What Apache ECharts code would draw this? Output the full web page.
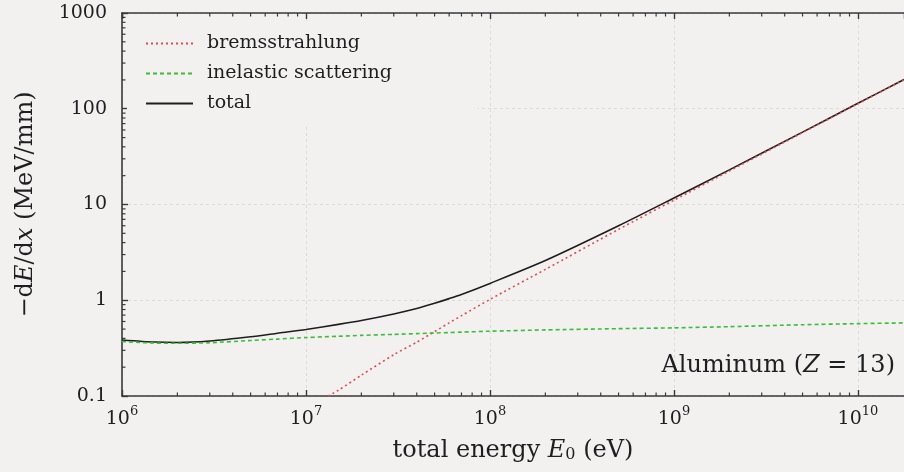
<!DOCTYPE html>
<html><head><meta charset="utf-8">
<script src="https://cdn.jsdelivr.net/npm/echarts@6/dist/echarts.min.js"></script>
<style>html,body{margin:0;padding:0;background:#f3f0f0;}#c{width:904px;height:472px;}</style>
</head><body><div id="c"></div>
<script>
// Data (energy in eV, stopping power in MeV/mm)
const energy = [1e6, 1.5e6, 2e6, 3e6, 5e6, 7e6, 1e7, 1.5e7, 2e7, 3e7, 4e7, 5e7, 6e7, 7e7, 1e8, 2e8, 5e8, 1e9, 2e9, 5e9, 1e10, 1.78e10];
const bremsstrahlung = [null, null, null, null, null, null, 0.075, 0.115, 0.165, 0.27, 0.365, 0.47, 0.58, 0.69, 1.02, 2.1, 5.5, 11.1, 22.4, 56.3, 113, 201];
const inelastic = [0.37, 0.357, 0.355, 0.36, 0.38, 0.393, 0.408, 0.42, 0.43, 0.44, 0.448, 0.455, 0.46, 0.465, 0.475, 0.49, 0.505, 0.515, 0.53, 0.555, 0.57, 0.58];
const total = [0.385, 0.366, 0.362, 0.375, 0.415, 0.452, 0.495, 0.56, 0.615, 0.72, 0.82, 0.93, 1.04, 1.15, 1.5, 2.6, 6.0, 11.7, 23, 57, 114, 202];
const seriesNames = ['bremsstrahlung', 'inelastic scattering', 'total'];
const xDecades = [1e6, 1e7, 1e8, 1e9, 1e10];
const yDecades = [0.1, 1, 10, 100];
const minorMultipliers = [2, 3, 4, 5, 6, 7, 8, 9];
const xMin = 1e6, xMax = 1.78e10, yMin = 0.1, yMax = 1000;

const serif = 'DejaVu Serif';
const fs = 19;     // tick labels and legend
const fsBig = 24;  // axis names and annotation
const axisColor = '#3a3a3a';
const txt = '#1f1f1f';
const bg = '#f3f0f0';

function pairs(ys) { return energy.map((e, i) => [e, ys[i]]); }

const xMinor = [];
xDecades.forEach(d => minorMultipliers.forEach(m => { if (d * m < xMax) xMinor.push(d * m); }));
const yMinor = [];
yDecades.forEach(d => minorMultipliers.forEach(m => { if (d * m < yMax) yMinor.push(d * m); }));

const chart = echarts.init(document.getElementById('c'));
const gridLine = { show: true, lineStyle: { color: '#dedada', type: [3, 3], width: 1 } };

chart.setOption({
  backgroundColor: bg,
  animation: false,
  grid: { left: 122, right: 0, top: 13, bottom: 76 },
  legend: {
    data: seriesNames,
    orient: 'vertical',
    left: 127, top: 21,
    padding: [13, 86, 11, 18],
    backgroundColor: bg,
    itemWidth: 47, itemHeight: 14, itemGap: 11,
    itemStyle: { opacity: 0 },
    textStyle: { fontFamily: serif, fontSize: fs, color: txt, padding: [0, 0, 0, 9] },
    z: 4
  },
  xAxis: [{
    type: 'log', logBase: 10, min: xMin, max: xMax,
    axisLine: { lineStyle: { color: axisColor, width: 1.6 } },
    axisTick: { inside: true, length: 6, lineStyle: { color: axisColor, width: 1.4 } },
    splitLine: gridLine,
    axisLabel: {
      showMaxLabel: false,
      margin: 9,
      fontFamily: serif, fontSize: fs, color: txt,
      formatter: v => '10{s|' + Math.round(Math.log10(v)) + '}',
      rich: { s: { fontSize: 13, fontFamily: serif, color: txt, padding: [0, 0, 15, 0] } }
    },
    name: 'total energy {i|E}{sub|0} (eV)',
    nameLocation: 'middle', nameGap: 43,
    nameTextStyle: {
      fontFamily: serif, fontSize: fsBig, color: txt,
      rich: {
        i: { fontFamily: serif, fontStyle: 'italic', fontSize: fsBig, color: txt },
        sub: { fontFamily: serif, fontSize: 16, color: txt, padding: [8, 0, 0, 0] }
      }
    }
  }, {
    type: 'log', logBase: 10, min: xMin, max: xMax, position: 'top',
    axisLine: { lineStyle: { color: axisColor, width: 1.6 } },
    axisTick: { inside: true, length: 6, lineStyle: { color: axisColor, width: 1.4 } },
    axisLabel: { show: false }, splitLine: { show: false }
  }],
  yAxis: {
    type: 'log', logBase: 10, min: yMin, max: yMax,
    axisLine: { show: true, lineStyle: { color: axisColor, width: 1.6 } },
    axisTick: { show: true, inside: true, length: 6, lineStyle: { color: axisColor, width: 1.4 } },
    splitLine: gridLine,
    axisLabel: {
      margin: 15, fontFamily: serif, fontSize: fs, color: txt,
      formatter: v => (v < 1 ? '0.1' : String(Math.round(v)))
    },
    name: '−d{i|E}/d{i|x} (MeV/mm)',
    nameLocation: 'middle', nameGap: 84, nameRotate: 90,
    nameTextStyle: {
      fontFamily: serif, fontSize: fsBig, color: txt,
      rich: { i: { fontFamily: serif, fontStyle: 'italic', fontSize: fsBig, color: txt } }
    }
  },
  graphic: [{
    type: 'text', right: 9, top: 354, z: 10,
    style: {
      text: 'Aluminum ({i|Z} = 13)',
      font: fsBig + 'px "' + serif + '"', fill: txt,
      rich: { i: { fontFamily: serif, fontStyle: 'italic', fontSize: fsBig, fill: txt } }
    }
  }],
  series: [
    {
      name: 'bremsstrahlung', type: 'line', data: pairs(bremsstrahlung), smooth: 0.25,
      showSymbol: false, symbol: 'none', connectNulls: false, clip: true,
      lineStyle: { color: '#e04a4f', width: 1.6, type: [2, 3] }, itemStyle: { color: '#e04a4f' }, z: 3
    },
    {
      name: 'inelastic scattering', type: 'line', data: pairs(inelastic), smooth: 0.25,
      showSymbol: false, symbol: 'none', clip: true,
      lineStyle: { color: '#35c035', width: 1.6, type: [4, 3] }, itemStyle: { color: '#35c035' }, z: 3
    },
    {
      name: 'total', type: 'line', data: pairs(total), smooth: 0.25,
      showSymbol: false, symbol: 'none', clip: true,
      lineStyle: { color: '#1e1e1e', width: 1.6 }, itemStyle: { color: '#1e1e1e' }, z: 2
    },
    {
      type: 'custom', name: 'minorX', silent: true, z: 5, clip: false,
      data: xMinor.map(v => [v]),
      renderItem: function (params, api) {
        const v = api.value(0);
        const b = api.coord([v, yMin]);
        const t = api.coord([v, yMax]);
        const st = { stroke: axisColor, lineWidth: 1.2 };
        return { type: 'group', children: [
          { type: 'line', shape: { x1: b[0], y1: b[1], x2: b[0], y2: b[1] - 3.5 }, style: st },
          { type: 'line', shape: { x1: t[0], y1: t[1], x2: t[0], y2: t[1] + 3.5 }, style: st }
        ] };
      }
    },
    {
      type: 'custom', name: 'minorY', silent: true, z: 5, clip: false,
      data: yMinor.map(v => [v]),
      renderItem: function (params, api) {
        const v = api.value(0);
        const p = api.coord([xMin, v]);
        return { type: 'line', shape: { x1: p[0], y1: p[1], x2: p[0] + 3.5, y2: p[1] },
          style: { stroke: axisColor, lineWidth: 1.2 } };
      },
      encode: { y: 0 }
    }
  ]
});
</script></body></html>
